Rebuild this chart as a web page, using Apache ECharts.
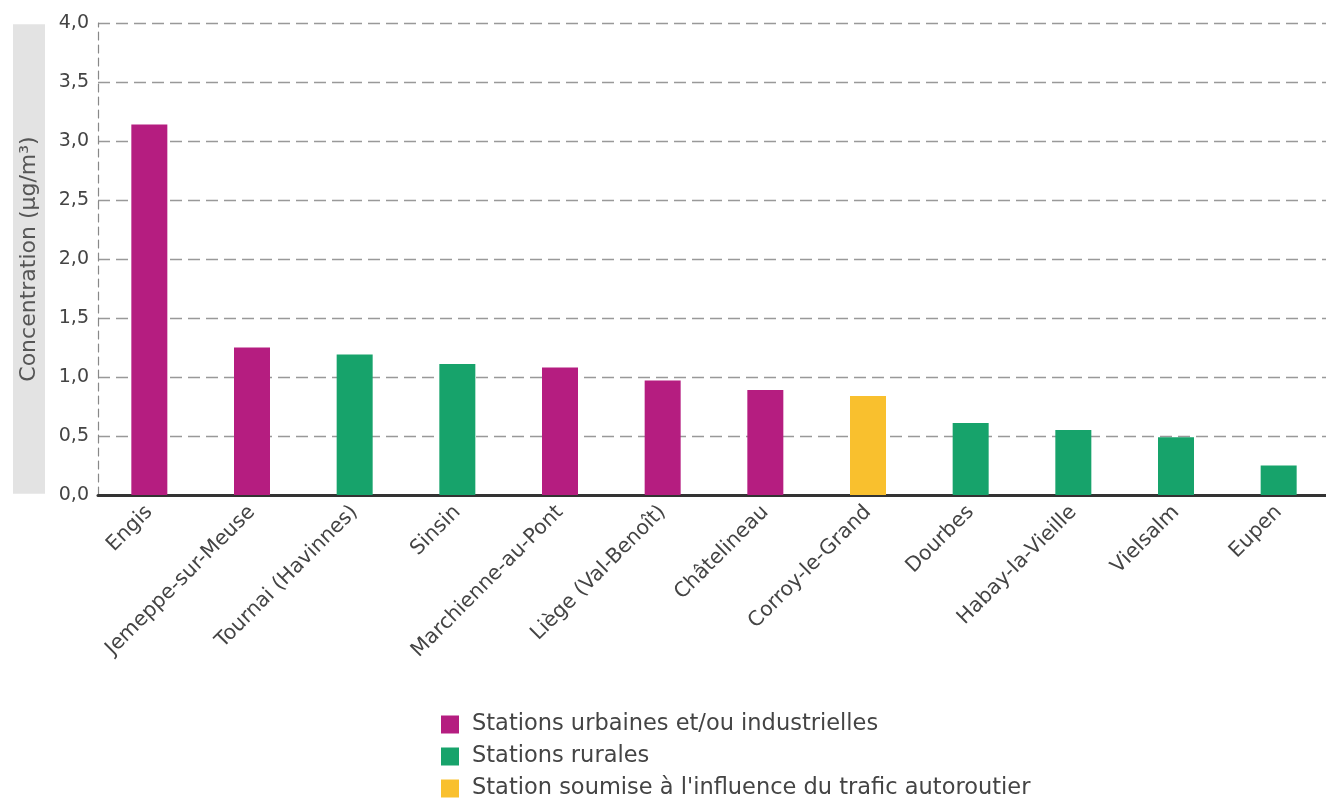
<!DOCTYPE html>
<html>
<head>
<meta charset="utf-8">
<script src="https://cdn.jsdelivr.net/npm/echarts@6/dist/echarts.min.js"></script>
<style>
  html, body { margin: 0; padding: 0; background: #fff; }
  #chart { width: 1326px; height: 799px; }
</style>
</head>
<body>
<div id="chart"></div>
<script>
// stations, valeurs (µg/m³)
const stations = ['Engis', 'Jemeppe-sur-Meuse', 'Tournai (Havinnes)', 'Sinsin', 'Marchienne-au-Pont',
    'Liège (Val-Benoît)', 'Châtelineau', 'Corroy-le-Grand', 'Dourbes', 'Habay-la-Vieille', 'Vielsalm', 'Eupen'];
const urbaines = [3.14, 1.25, null, null, 1.08, 0.97, 0.89, null, null, null, null, null];
const rurales = [null, null, 1.19, 1.11, null, null, null, null, 0.61, 0.55, 0.49, 0.25];
const autoroute = [null, null, null, null, null, null, null, 0.84, null, null, null, null];
const seriesNames = ['Stations urbaines et/ou industrielles', 'Stations rurales',
    "Station soumise à l'influence du trafic autoroutier"];
const colors = ['#b51d80', '#17a36b', '#f9c02e'];
const yTicks = [0, 0.5, 1, 1.5, 2, 2.5, 3, 3.5, 4];

const font = '"DejaVu Sans", Verdana, sans-serif';
const chart = echarts.init(document.getElementById('chart'));

const makeSeries = (name, data, color) => ({
    name, type: 'bar', stack: 'total', data, barWidth: 36,
    itemStyle: { color }, emphasis: { disabled: true }
});

// une légende par ligne pour éviter le retour en colonnes
const legends = seriesNames.map((name, i) => ({
    orient: 'vertical', left: 441, top: 713 + i * 32, padding: 0, itemWidth: 18, itemHeight: 18,
    icon: 'rect', selectedMode: false,
    textStyle: { fontSize: 22.5, lineHeight: 22, color: '#444', fontFamily: font, padding: [0, 0, 0, 8] },
    data: [name]
}));

chart.setOption({
    animation: false,
    textStyle: { fontFamily: font },
    grid: { left: 98, right: -4, top: 23, bottom: 304, containLabel: false, outerBoundsMode: 'none' },
    legend: legends,
    xAxis: {
        type: 'category', data: stations,
        axisLine: { lineStyle: { color: '#333', width: 3 } },
        axisTick: { inside: true, length: 10, lineStyle: { color: '#333', width: 2 } },
        axisLabel: { rotate: 45, fontSize: 20.5, color: '#444', margin: 14, interval: 0, fontFamily: font }
    },
    yAxis: {
        type: 'value', min: 0, max: 4, interval: 0.5,
        name: 'Concentration (µg/m³)', nameLocation: 'middle', nameGap: 53,
        nameTextStyle: {
            fontSize: 22, color: '#555', fontFamily: font, backgroundColor: '#e3e3e3',
            padding: [5, 112, 5, 112]
        },
        axisLine: { show: true, lineStyle: { color: '#888', type: [8, 5], width: 1.2 } },
        axisTick: { show: false },
        axisLabel: {
            fontSize: 19, color: '#444', margin: 9, fontFamily: font,
            formatter: v => yTicks.includes(v) ? v.toFixed(1).replace('.', ',') : ''
        },
        splitLine: { lineStyle: { color: '#999', type: [12, 6], width: 1.4 } }
    },
    series: [
        makeSeries(seriesNames[0], urbaines, colors[0]),
        makeSeries(seriesNames[1], rurales, colors[1]),
        makeSeries(seriesNames[2], autoroute, colors[2])
    ]
});
</script>
</body>
</html>
